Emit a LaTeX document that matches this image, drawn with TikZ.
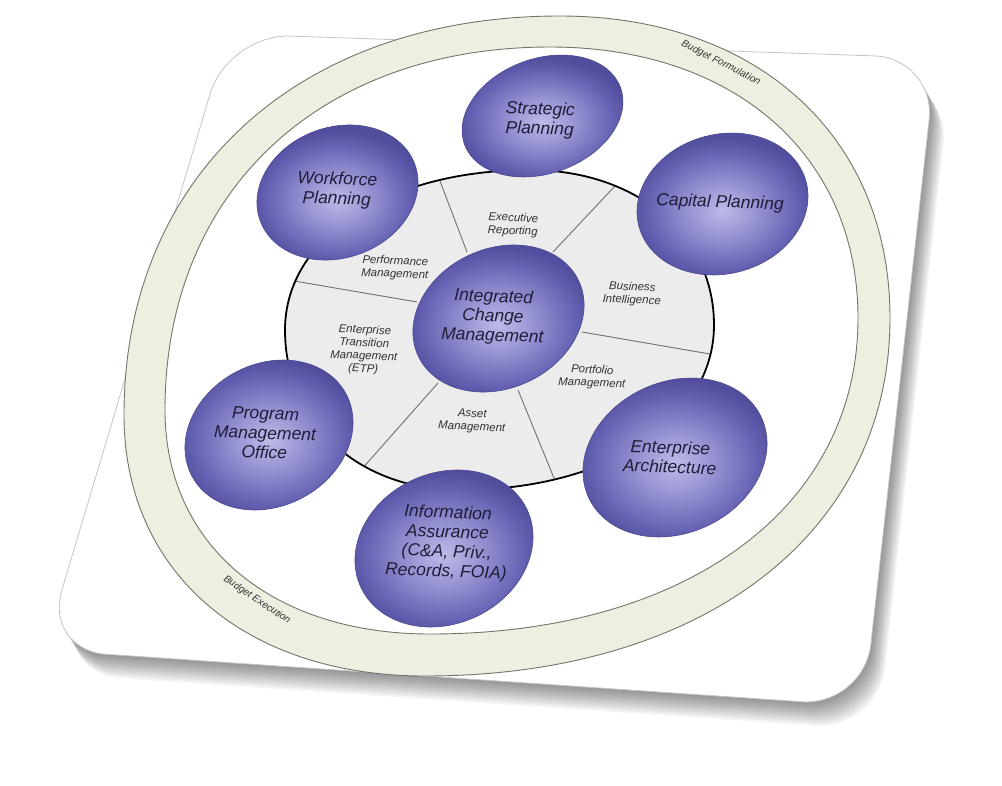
\documentclass[tikz,border=0pt]{standalone}
\usepackage{fontspec}
\setmainfont{Liberation Sans}
\definecolor{bubA}{HTML}{BDBBE8}
\definecolor{bubB}{HTML}{9794D4}
\definecolor{bubC}{HTML}{6461B2}
\definecolor{bubD}{HTML}{524E9E}
\definecolor{bubedge}{HTML}{4A4690}
\definecolor{bubtext}{HTML}{1E1E38}
\definecolor{lbltext}{HTML}{333333}
\definecolor{ringfill}{HTML}{EFEFE1}
\definecolor{ringline}{HTML}{74746A}
\definecolor{diskfill}{HTML}{ECECEC}
\definecolor{segline}{HTML}{707070}
\definecolor{cardline}{HTML}{C4C4C4}
\pgfdeclareradialshading{bubsh}{\pgfpoint{0bp}{0bp}}{color(0bp)=(bubA); color(9bp)=(bubB); color(20bp)=(bubC); color(25bp)=(bubD); color(50bp)=(bubD)}
% closed curve through top, right, bottom, left extreme points
\newcommand\quadblob[9]{%
 (#1,#2) .. controls ({#1+#9*(#3-#1)},#2) and (#3,{#4-#9*(#4-#2)}) .. (#3,#4)
 .. controls (#3,{#4+#9*(#6-#4)}) and ({#5+#9*(#3-#5)},#6) .. (#5,#6)
 .. controls ({#5-#9*(#5-#7)},#6) and (#7,{#8+#9*(#6-#8)}) .. (#7,#8)
 .. controls (#7,{#8-#9*(#8-#2)}) and ({#1-#9*(#1-#7)},#2) .. (#1,#2) -- cycle}
\newcommand\bubfill[5]{\shade[shading=bubsh, draw=bubedge, line width=0.6pt, rotate around={#5:(#1,#2)}] (#1,#2) ellipse [x radius=#3, y radius=#4];}
\newcommand\cardpath{(228,34) -- (936,58) -- (864,706) -- (44,650) -- cycle}
\tikzset{
  bigl/.style={font=\itshape\fontsize{17.5}{19.5}\selectfont, text=bubtext, align=center, rotate=-2, inner sep=0pt},
  smalll/.style={font=\itshape\fontsize{11.5}{13}\selectfont, text=lbltext, align=center, rotate=-2.5, inner sep=0pt},
  ringl/.style={font=\itshape\fontsize{10}{12}\selectfont, text=lbltext, inner sep=0pt},
  seg/.style={draw=segline, line width=0.9pt}
}
\begin{document}
\begin{tikzpicture}[x=1pt,y=-1pt]
\useasboundingbox (0,0) rectangle (1002,785);
\fill[white] (0,0) rectangle (1002,785);
% card shadow
\foreach \d in {2,4,6,8,10,12,14,16,18,20,22,24}{
  \fill[black, opacity=0.04, rounded corners=62pt, shift={(0.6*\d,\d)}] \cardpath;
}
% card
\fill[white, draw=cardline, line width=0.8pt, rounded corners=62pt] \cardpath;
% ring
\fill[ringfill, even odd rule]
  \quadblob{560}{16}{890}{318}{425}{676}{124}{415}{0.6}
  \quadblob{550}{47}{858}{318}{430}{634}{165}{410}{0.6};
\draw[ringline, line width=0.9pt] \quadblob{560}{16}{890}{318}{425}{676}{124}{415}{0.6};
\draw[ringline, line width=0.9pt] \quadblob{550}{47}{858}{318}{430}{634}{165}{410}{0.6};
\node[ringl, rotate=-27] (bf) at (721,63) {Budget Formulation};
\node[ringl, rotate=-34] (be) at (257,600) {Budget Execution};
% inner disk
\fill[diskfill] \quadblob{530}{170}{714}{325}{460}{490}{285}{330}{0.58};
\begin{scope}
  \clip \quadblob{530}{170}{714}{325}{460}{490}{285}{330}{0.58};
  \coordinate (a1) at (467,252); \coordinate (b1) at (432,160);
  \coordinate (a2) at (553,252); \coordinate (b2) at (630,170);
  \coordinate (a3) at (582,332); \coordinate (b3) at (745,360);
  \coordinate (a4) at (518,390); \coordinate (b4) at (565,505);
  \coordinate (a5) at (438,383); \coordinate (b5) at (345,488);
  \coordinate (a6) at (417,302); \coordinate (b6) at (265,276);
  \foreach \i in {1,...,6}{\draw[seg] (a\i) -- (b\i);}
\end{scope}
\draw[black, line width=1.8pt] \quadblob{530}{170}{714}{325}{460}{490}{285}{330}{0.58};
% segment labels
\node[smalll] (l1) at (513,225) {Executive\\Reporting};
\node[smalll] (l2) at (395,268) {Performance\\Management};
\node[smalll] (l3) at (632,294) {Business\\Intelligence};
\node[smalll] (l4) at (364,350) {Enterprise\\Transition\\Management\\(ETP)};
\node[smalll] (l5) at (592,377) {Portfolio\\Management};
\node[smalll] (l6) at (472,421) {Asset\\Management};
% bubbles
\bubfill{498.5}{318.5}{88.6}{69.8}{25}
\bubfill{542.5}{116}{83}{57.4}{20}
\bubfill{337.5}{192.5}{82.3}{65.3}{20}
\bubfill{722.5}{204}{86.5}{69.7}{15}
\bubfill{269}{435}{87.3}{71.1}{28}
\bubfill{444}{548.5}{91.7}{75.3}{25}
\bubfill{675}{457.5}{95.2}{75.6}{25}
\node[bigl] (icm) at (493,317) {Integrated\\Change\\Management};
\node[bigl] (sp) at (540,120) {Strategic\\Planning};
\node[bigl] (wp) at (337,190) {Workforce\\Planning};
\node[bigl] (cp) at (720,203) {Capital Planning};
\node[bigl] (pmo) at (265,433) {Program\\Management\\Office};
\node[bigl] (ia) at (447,543) {Information\\Assurance\\(C\&A, Priv.,\\Records, FOIA)};
\node[bigl] (ea) at (670,457) {Enterprise\\Architecture};
\end{tikzpicture}
\end{document}
